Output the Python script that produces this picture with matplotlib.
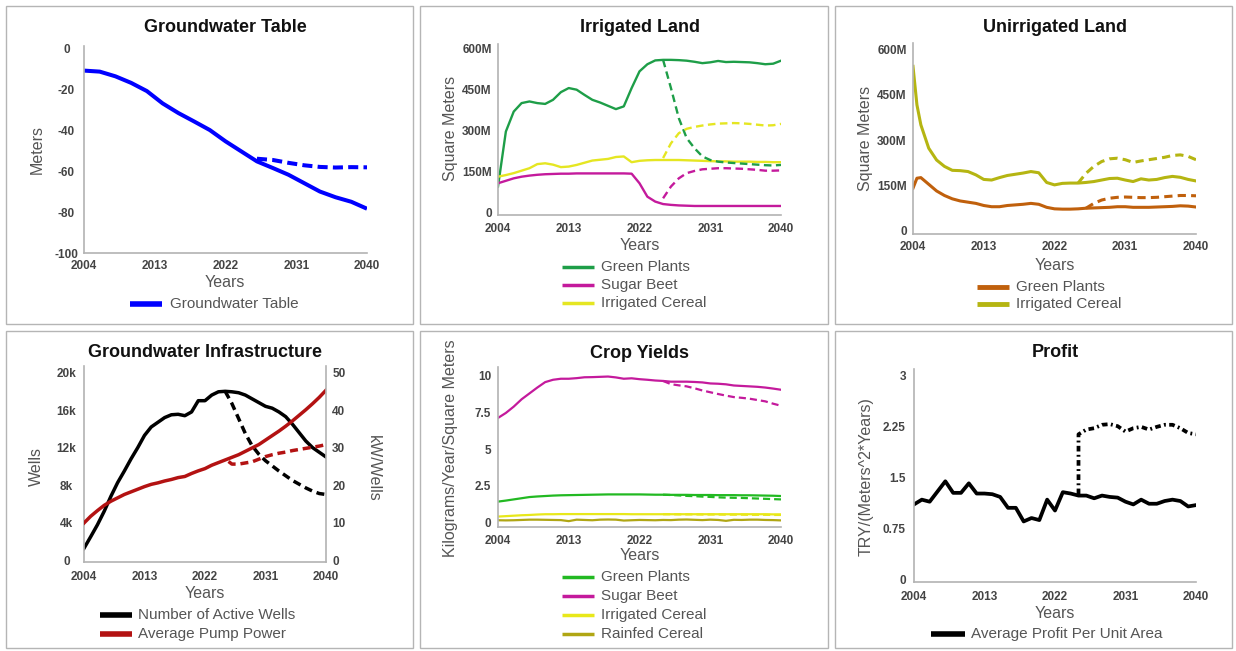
import matplotlib
matplotlib.use('Agg')
import matplotlib.pyplot as plt
from matplotlib.lines import Line2D
from matplotlib.patches import Rectangle

plt.rcParams['font.family'] = ['Liberation Sans', 'DejaVu Sans']

W, H = 1236, 651

years = list(range(2004, 2041))
x_ticks = [2004, 2013, 2022, 2031, 2040]
x_labels = ['2004', '2013', '2022', '2031', '2040']

# Groundwater table (meters)
gw_years = list(range(2004, 2041, 2))
gw_table = [-11, -11.5, -13.8, -17, -21, -27, -31.7, -35.8, -40, -45.5,
            -50.4, -55.3, -58.5, -61.8, -65.9, -70, -72.8, -75, -78.4]
gw_alt_years = list(range(2026, 2041, 2))
gw_alt = [-54, -54.6, -56, -57.2, -58, -58.3, -58.1, -58.2]

# Irrigated land (million m2)
irr_green = [94, 295, 368, 399, 405, 399, 396, 411, 439, 454, 448, 429, 411,
             401, 389, 377, 387, 454, 515, 541, 555, 557, 557, 556, 554, 550,
             545, 548, 553, 549, 550, 549, 548, 545, 541, 543, 554]
irr_beet = [106, 115, 124, 130, 134, 137, 139, 140, 141, 141, 142, 142, 142,
            142, 142, 142, 142, 141, 106, 57, 39, 30, 27, 25, 24, 23,
            23, 23, 23, 23, 23, 23, 23, 23, 23, 23, 23]
irr_cereal = [130, 136, 143, 152, 161, 176, 179, 174, 165, 167, 173, 181, 189,
              192, 195, 202, 204, 183, 188, 190, 191, 191, 191, 191, 190, 189,
              188, 187, 186, 186, 185, 185, 185, 184, 184, 183, 183]
alt_years = list(range(2025, 2041))
irr_green_alt = [557, 454, 344, 271, 234, 204, 191, 185, 182, 180, 178, 176,
                 174, 172, 171, 173]
irr_beet_alt = [51, 94, 124, 143, 151, 157, 159, 161, 161, 160, 159, 157,
                155, 152, 152, 153]
irr_cereal_alt = [198, 252, 289, 305, 312, 317, 321, 324, 325, 326, 325, 323,
                  320, 317, 318, 323]

# Unirrigated land (million m2)
unirr_years = [2004, 2004.5] + list(range(2005, 2041))
unirr_green = [141, 174, 176, 154, 132, 117, 106, 99, 95, 91, 84, 80, 80, 84,
               86, 88, 91, 88, 78, 73, 72, 72, 73, 75, 76, 77, 78, 80, 80, 78,
               78, 78, 79, 80, 81, 83, 82, 79]
unirr_cereal = [543, 416, 350, 273, 234, 213, 200, 199, 196, 185, 170, 168,
                176, 183, 187, 191, 196, 192, 160, 152, 157, 158, 158, 160,
                163, 168, 173, 174, 168, 163, 172, 168, 170, 176, 180, 177,
                170, 165]
unirr_green_alt_years = list(range(2026, 2041))
unirr_green_alt = [75, 91, 102, 108, 111, 112, 111, 110, 110, 111, 113, 115,
                   117, 117, 116]
unirr_cereal_alt = [158, 190, 213, 229, 238, 240, 235, 226, 231, 235, 239,
                    243, 249, 251, 246, 235]

# Groundwater infrastructure
wells = [1260, 2500, 3770, 5200, 6800, 8260, 9500, 10800, 12000, 13300, 14200,
         14700, 15200, 15500, 15550, 15400, 15800, 17000, 17000, 17600, 17950,
         18000, 17950, 17850, 17600, 17200, 16800, 16400, 16200, 15800, 15300,
         14500, 13600, 12700, 12000, 11500, 11000]
wells_alt = [18000, 16700, 15100, 13500, 12200, 11300, 10600, 10050, 9500,
             9000, 8500, 8100, 7700, 7360, 7100, 7000]
pump = [9.9, 11.7, 13.2, 14.6, 15.7, 16.6, 17.5, 18.2, 18.9, 19.6, 20.2, 20.6,
        21.1, 21.5, 22.0, 22.3, 23.1, 23.8, 24.4, 25.3, 26.0, 26.7, 27.4, 28.1,
        29.0, 29.9, 30.8, 32.0, 33.2, 34.4, 35.7, 37.1, 38.6, 40.1, 41.7, 43.4,
        45.3]
pump_alt_years = [2025.5] + list(range(2026, 2041))
pump_alt = [26.3, 25.6, 25.6, 25.9, 26.2, 26.9, 27.6, 28.1, 28.5, 28.8, 29.2,
            29.5, 29.8, 30.1, 30.4, 30.8]

# Crop yields (kg/year/m2)
y_green = [1.43, 1.5, 1.58, 1.66, 1.74, 1.78, 1.81, 1.84, 1.86, 1.87, 1.88,
           1.89, 1.9, 1.91, 1.92, 1.92, 1.92, 1.92, 1.92, 1.91, 1.9, 1.9, 1.89,
           1.89, 1.89, 1.88, 1.88, 1.88, 1.87, 1.87, 1.87, 1.86, 1.86, 1.85,
           1.84, 1.83, 1.81]
y_beet = [7.13, 7.47, 7.9, 8.4, 8.8, 9.2, 9.57, 9.73, 9.8, 9.8, 9.84, 9.9,
          9.91, 9.93, 9.95, 9.89, 9.8, 9.83, 9.77, 9.73, 9.68, 9.65, 9.6, 9.6,
          9.6, 9.58, 9.55, 9.48, 9.46, 9.42, 9.34, 9.31, 9.28, 9.25, 9.2, 9.13,
          9.05]
y_irr_cereal = [0.41, 0.44, 0.47, 0.5, 0.52, 0.55, 0.57, 0.57, 0.58, 0.58,
                0.58, 0.58, 0.58, 0.58, 0.58, 0.58, 0.58, 0.57, 0.57, 0.57,
                0.57, 0.57, 0.57, 0.57, 0.57, 0.57, 0.57, 0.57, 0.57, 0.57,
                0.57, 0.57, 0.57, 0.57, 0.57, 0.56, 0.56]
y_rain_cereal = [0.16, 0.15, 0.16, 0.18, 0.2, 0.2, 0.19, 0.18, 0.17, 0.1, 0.2,
                 0.18, 0.16, 0.2, 0.21, 0.2, 0.14, 0.16, 0.18, 0.17, 0.16,
                 0.18, 0.17, 0.2, 0.21, 0.19, 0.17, 0.2, 0.18, 0.12, 0.19,
                 0.18, 0.2, 0.2, 0.18, 0.17, 0.15]
y_green_alt = [1.9, 1.88, 1.85, 1.82, 1.8, 1.77, 1.75, 1.72, 1.7, 1.69, 1.68,
               1.66, 1.64, 1.62, 1.6, 1.58]
y_beet_alt = [9.65, 9.43, 9.35, 9.28, 9.15, 9.0, 8.88, 8.76, 8.65, 8.55, 8.5,
              8.44, 8.35, 8.26, 8.1, 7.96]
y_irr_cereal_alt = [0.57, 0.57, 0.56, 0.56, 0.56, 0.55, 0.55, 0.55, 0.54,
                    0.54, 0.54, 0.53, 0.53, 0.53, 0.52, 0.52]

# Profit (TRY/(m2*year))
profit = [1.11, 1.18, 1.15, 1.30, 1.45, 1.28, 1.28, 1.42, 1.27, 1.27, 1.26,
          1.22, 1.06, 1.06, 0.86, 0.91, 0.88, 1.18, 1.02, 1.29, 1.27, 1.24,
          1.24, 1.20, 1.24, 1.22, 1.21, 1.15, 1.11, 1.18, 1.12, 1.12, 1.16,
          1.18, 1.16, 1.08, 1.10]
profit_alt_years = [2025] + list(range(2025, 2041))
profit_alt = [1.26, 2.14, 2.21, 2.23, 2.28, 2.29, 2.26, 2.18, 2.23, 2.25, 2.21,
              2.25, 2.28, 2.28, 2.23, 2.16, 2.14]

TICK_C = '#444444'
LAB_C = '#555555'
SPINE_C = '#b3b3b3'

fig = plt.figure(figsize=(W / 100, H / 100), dpi=100)


def px_box(x0, y0, x1, y1):
    return [x0 / W, 1 - y1 / H, (x1 - x0) / W, (y1 - y0) / H]


def ftext(x, y, s, **kw):
    fig.text(x / W, 1 - y / H, s, **kw)


def panel(rect, title, tx, ty):
    x0, y0, x1, y1 = rect
    fig.add_artist(Rectangle((x0 / W, 1 - y1 / H), (x1 - x0) / W, (y1 - y0) / H,
                             transform=fig.transFigure, fill=False,
                             ec='#b5b5b5', lw=1))
    ftext(tx, ty, title, ha='center', va='center', fontsize=13,
          fontweight='bold', color='#111111')


def style(ax, yticks, ylabels, ylim, ha='right', ypad=4.5, xpad=5):
    ax.set_xlim(2004, 2040)
    ax.set_ylim(*ylim)
    ax.set_xticks(x_ticks, x_labels)
    ax.set_yticks(yticks, ylabels)
    for s in ['top', 'right']:
        ax.spines[s].set_visible(False)
    for s in ['left', 'bottom']:
        ax.spines[s].set_color(SPINE_C)
        ax.spines[s].set_linewidth(1.2)
    ax.tick_params(length=0, labelsize=8.5, labelcolor=TICK_C)
    ax.tick_params(axis='x', pad=xpad)
    ax.tick_params(axis='y', pad=ypad)
    for lab in ax.get_xticklabels() + ax.get_yticklabels():
        lab.set_fontweight('bold')
    for lab in ax.get_yticklabels():
        lab.set_ha(ha)
    ax.patch.set_alpha(0)


def legend_rows(entries, xl0, xl1, xt, ys, lw):
    for (label, color), y in zip(entries, ys):
        fig.add_artist(Line2D([xl0 / W, xl1 / W], [1 - y / H, 1 - y / H],
                              transform=fig.transFigure, color=color, lw=lw,
                              solid_capstyle='butt'))
        ftext(xt, y, label, ha='left', va='center', fontsize=11, color=LAB_C)


def labels(xl, yl, ylabel, xy, ly):
    ftext(xy[0], xy[1], 'Years', ha='center', va='center', fontsize=11.5,
          color=LAB_C)
    ftext(ly[0], ly[1], ylabel, ha='center', va='center', fontsize=11.5,
          color=LAB_C, rotation=90)


# ---------- Panel 1: Groundwater Table ----------
panel((6, 6, 413, 324), 'Groundwater Table', 225, 27)
ax1 = fig.add_axes(px_box(84, 46, 367, 253))
ax1.plot(gw_years, gw_table, color='#0000ff', lw=2.9, solid_capstyle='butt')
ax1.plot(gw_alt_years, gw_alt, color='#0000ff', lw=2.9, ls=(0, (2.5, 1.3)))
style(ax1, [0, -20, -40, -60, -80, -100],
      ['0', '-20', '-40', '-60', '-80', '-100'], (-100, 1), ha='center',
      ypad=12.7, xpad=5)
labels(None, None, 'Meters', (225, 283), (37, 150))
legend_rows([('Groundwater Table', '#0000ff')], 130, 162, 170, [304], 4)

# ---------- Panel 2: Irrigated Land ----------
G2, M2, Y2 = '#1e9e48', '#c41a9c', '#e5e622'
panel((420, 6, 828, 324), 'Irrigated Land', 640, 27)
ax2 = fig.add_axes(px_box(498, 44, 781, 215))
ax2.plot(years, irr_green, color=G2, lw=1.7)
ax2.plot(years, irr_beet, color=M2, lw=1.7)
ax2.plot(years, irr_cereal, color=Y2, lw=1.7)
d2 = (0, (3.2, 1.9))
ax2.plot(alt_years, irr_green_alt, color=G2, lw=1.7, ls=d2)
ax2.plot(alt_years, irr_beet_alt, color=M2, lw=1.7, ls=d2)
ax2.plot(alt_years, irr_cereal_alt, color=Y2, lw=1.7, ls=d2)
style(ax2, [0, 150, 300, 450, 600], ['0', '150M', '300M', '450M', '600M'],
      (-10, 615), ypad=4.5, xpad=5.5)
labels(None, None, 'Square Meters', (640, 245), (451, 128))
legend_rows([('Green Plants', G2), ('Sugar Beet', M2), ('Irrigated Cereal', Y2)],
            562, 594, 601, [267, 285, 303], 2.5)

# ---------- Panel 3: Unirrigated Land ----------
B3, O3 = '#c0600c', '#b5b512'
panel((835, 6, 1232, 324), 'Unirrigated Land', 1055, 27)
ax3 = fig.add_axes(px_box(913, 43, 1196, 234))
d3 = (0, (2.7, 1.7))
ax3.plot(unirr_years, unirr_green, color=B3, lw=2.2)
ax3.plot(unirr_years, unirr_cereal, color=O3, lw=2.2)
ax3.plot(unirr_green_alt_years, unirr_green_alt, color=B3, lw=2.2, ls=d3)
ax3.plot(alt_years, unirr_cereal_alt, color=O3, lw=2.2, ls=d3)
style(ax3, [0, 150, 300, 450, 600], ['0', '150M', '300M', '450M', '600M'],
      (-10, 620), ypad=4.5, xpad=5)
labels(None, None, 'Square Meters', (1055, 265), (866, 138))
legend_rows([('Green Plants', B3), ('Irrigated Cereal', O3)],
            977, 1009, 1016, [287, 304], 3.5)

# ---------- Panel 4: Groundwater Infrastructure ----------
R4 = '#b31212'
panel((6, 331, 413, 648), 'Groundwater Infrastructure', 205, 353)
ax4 = fig.add_axes(px_box(84, 366, 326, 562))
ax4r = ax4.twinx()
d4 = (0, (2.3, 1.4))
ax4.plot(years, wells, color='black', lw=2.5)
ax4.plot(alt_years, wells_alt, color='black', lw=2.5, ls=d4)
ax4r.plot(years, pump, color=R4, lw=2.5)
ax4r.plot(pump_alt_years, pump_alt, color=R4, lw=2.5, ls=d4)
style(ax4, [0, 4000, 8000, 12000, 16000, 20000],
      ['0', '4k', '8k', '12k', '16k', '20k'], (-200, 20700), ha='center',
      ypad=12.7, xpad=6.5)
ax4r.set_ylim(-0.5, 51.75)
ax4r.set_yticks([0, 10, 20, 30, 40, 50], ['0', '10', '20', '30', '40', '50'])
for s in ['top', 'left', 'bottom']:
    ax4r.spines[s].set_visible(False)
ax4r.spines['right'].set_color(SPINE_C)
ax4r.spines['right'].set_linewidth(1.2)
ax4r.tick_params(length=0, labelsize=8.5, labelcolor=TICK_C, pad=4.5)
for lab in ax4r.get_yticklabels():
    lab.set_fontweight('bold')
labels(None, None, 'Wells', (205, 593), (36, 466))
ftext(373, 468, 'kW/Wells', ha='center', va='center', fontsize=11.5,
      color=LAB_C, rotation=270)
legend_rows([('Number of Active Wells', 'black'), ('Average Pump Power', R4)],
            100, 132, 138, [615, 634], 4)

# ---------- Panel 5: Crop Yields ----------
G5, M5, Y5, O5 = '#22b922', '#c41a9c', '#e8e81a', '#b0a614'
panel((420, 331, 828, 648), 'Crop Yields', 640, 354)
ax5 = fig.add_axes(px_box(498, 367, 781, 527))
d5 = (0, (3.2, 1.8))
ax5.plot(years, y_rain_cereal, color=O5, lw=1.6)
ax5.plot(years, y_irr_cereal, color=Y5, lw=1.6)
ax5.plot(years, y_green, color=G5, lw=1.6)
ax5.plot(years, y_beet, color=M5, lw=1.6)
ax5.plot(alt_years, y_irr_cereal_alt, color=Y5, lw=1.6, ls=d5)
ax5.plot(alt_years, y_green_alt, color=G5, lw=1.6, ls=d5)
ax5.plot(alt_years, y_beet_alt, color=M5, lw=1.6, ls=d5)
style(ax5, [0, 2.5, 5, 7.5, 10], ['0', '2.5', '5', '7.5', '10'],
      (-0.3, 10.6), ypad=5, xpad=5.5)
labels(None, None, 'Kilograms/Year/Square Meters', (640, 556), (451, 448))
legend_rows([('Green Plants', G5), ('Sugar Beet', M5),
             ('Irrigated Cereal', Y5), ('Rainfed Cereal', O5)],
            562, 594, 601, [577, 596, 615, 634], 2.5)

# ---------- Panel 6: Profit ----------
panel((835, 331, 1232, 648), 'Profit', 1055, 353)
ax6 = fig.add_axes(px_box(914, 369, 1196, 582))
ax6.plot(years, profit, color='black', lw=2.7)
ax6.plot(profit_alt_years, profit_alt, color='black', lw=2.7,
         ls=(0, (1.5, 0.9, 0.5, 0.9)))
style(ax6, [0, 0.75, 1.5, 2.25, 3], ['0', '0.75', '1.5', '2.25', '3'],
      (-0.03, 3.1), ypad=5.8, xpad=6.5)
labels(None, None, 'TRY/(Meters^2*Years)', (1055, 613), (866, 477))
legend_rows([('Average Profit Per Unit Area', 'black')],
            931, 965, 971, [634], 4)

fig.savefig('out.png', dpi=100)
